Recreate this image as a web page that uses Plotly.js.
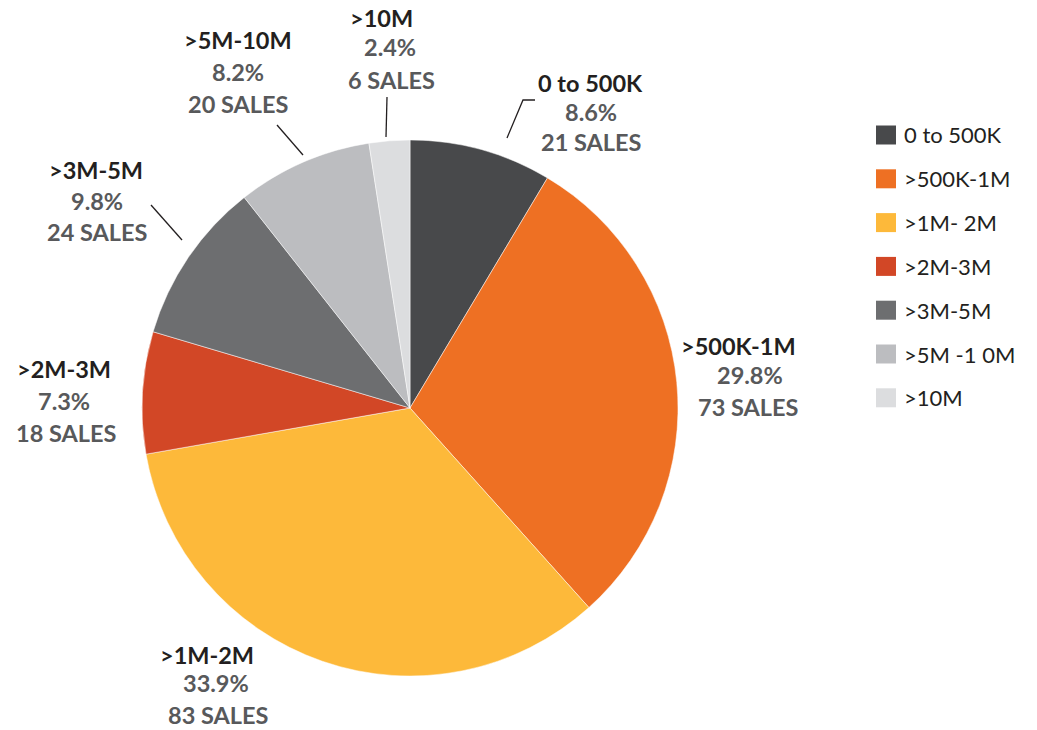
<!DOCTYPE html>
<html>
<head>
<meta charset="utf-8">
<script src="https://cdn.plot.ly/plotly-3.0.1.min.js"></script>
<style>html,body{margin:0;padding:0;background:#fff;}#chart{width:1037px;height:730px;}</style>
</head>
<body>
<div id="chart"></div>
<script>
// ---- data ----
const categories = ["0 to 500K", ">500K-1M", ">1M-2M", ">2M-3M", ">3M-5M", ">5M-10M", ">10M"];
const legendLabels = ["0 to 500K", ">500K-1M", ">1M- 2M", ">2M-3M", ">3M-5M", ">5M -1 0M", ">10M"];
const sales = [21, 73, 83, 18, 24, 20, 6];
const colors = ["#48494b", "#ee7023", "#fdb93a", "#d24726", "#6d6e70", "#bcbdc0", "#dcdddf"];

// ---- layout helpers (pixel positions of label lines: [centerX, centerY]) ----
const W = 1037, H = 730;
const labelPos = [
  [[590, 83], [591, 112], [591, 142]],
  [[738, 346], [750, 375], [748, 407]],
  [[207, 655], [216, 683], [218, 715]],
  [[64, 369], [64, 401], [66, 433]],
  [[96, 170], [97, 201], [97, 232]],
  [[238, 40], [238, 72], [238, 104]],
  [[381, 18], [390, 47], [391, 80]]
];
const leaders = [
  [[507, 138], [523, 100], [535, 100]],
  null, null, null,
  [[182, 240], [151, 205]],
  [[303, 155], [277, 125]],
  [[386, 137], [387, 97]]
];
const px = x => x / W;
const py = y => 1 - y / H;

const total = sales.reduce((a, b) => a + b, 0);
const annotations = [];
const shapes = [];
const font = "Lato, 'Open Sans', sans-serif";

categories.forEach((c, i) => {
  const pct = (sales[i] / total * 100).toFixed(1) + "%";
  const lines = ["<b>" + c + "</b>", "<b>" + pct + "</b>", "<b>" + sales[i] + " SALES</b>"];
  const cols = ["#231f20", "#58595b", "#58595b"];
  lines.forEach((t, k) => {
    annotations.push({
      xref: "paper", yref: "paper",
      x: px(labelPos[i][k][0]), y: py(labelPos[i][k][1]),
      xanchor: "center", yanchor: "middle",
      text: t, showarrow: false,
      font: {family: font, size: 23.5, color: cols[k]}
    });
  });
  if (leaders[i]) {
    const p = leaders[i].map((pt, j) => (j === 0 ? "M" : "L") + px(pt[0]) + "," + py(pt[1])).join(" ");
    shapes.push({type: "path", xref: "paper", yref: "paper", path: p, line: {color: "#231f20", width: 1.3}});
  }
});

// custom legend
legendLabels.forEach((l, i) => {
  const cy = 135 + i * 43.8;
  shapes.push({
    type: "rect", xref: "paper", yref: "paper",
    x0: px(876), x1: px(896), y0: py(cy - 9.5), y1: py(cy + 9.5),
    fillcolor: colors[i], line: {width: 0}
  });
  annotations.push({
    xref: "paper", yref: "paper", x: px(902), y: py(cy),
    xanchor: "left", yanchor: "middle", showarrow: false,
    text: l, font: {family: font, size: 22, color: "#231f20"}
  });
});

const cx = 410, cyc = 408, r = 268;
const trace = {
  type: "pie",
  labels: categories,
  values: sales,
  sort: false,
  direction: "clockwise",
  rotation: 0,
  textinfo: "none",
  hoverinfo: "label+value+percent",
  marker: {colors: colors, line: {color: "#ffffff", width: 0.5}},
  domain: {x: [px(cx - r), px(cx + r)], y: [py(cyc + r), py(cyc - r)]},
  showlegend: false
};

Plotly.newPlot("chart", [trace], {
  width: W, height: H,
  margin: {l: 0, r: 0, t: 0, b: 0},
  paper_bgcolor: "#ffffff",
  showlegend: false,
  annotations: annotations,
  shapes: shapes
}, {displayModeBar: false, staticPlot: true});
</script>
</body>
</html>
